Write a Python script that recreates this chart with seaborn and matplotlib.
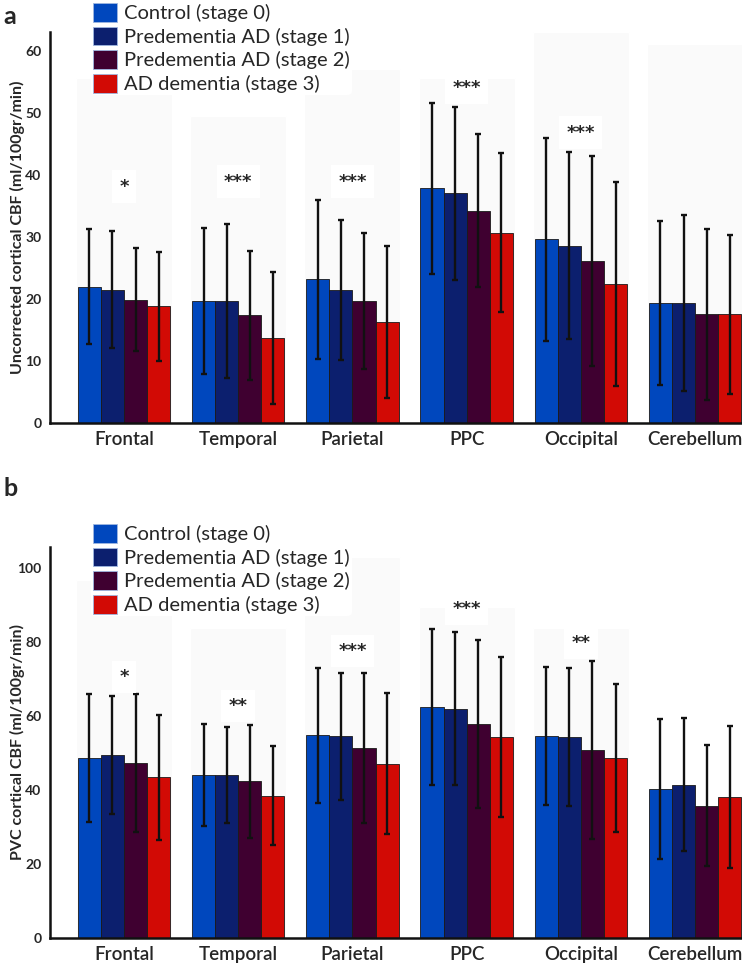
import matplotlib
matplotlib.use('Agg')
import matplotlib.pyplot as plt
from matplotlib.patches import Patch
import numpy as np
import pandas as pd
import seaborn as sns

sns.set_style("white")
plt.rcParams['font.family'] = ['Lato', 'DejaVu Sans']

# ---- data ----
regions = ['Frontal', 'Temporal', 'Parietal', 'PPC', 'Occipital', 'Cerebellum']
stages = ['Control (stage 0)', 'Predementia AD (stage 1)',
          'Predementia AD (stage 2)', 'AD dementia (stage 3)']
colors = ['#0047bd', '#0c1f6e', '#3f0030', '#d20a05']

# panel a: uncorrected cortical CBF, one row per stage
uncorr_mean = [
    [22.0, 19.7, 23.2, 37.8, 29.6, 19.4],
    [21.5, 19.7, 21.4, 37.0, 28.6, 19.4],
    [19.9, 17.4, 19.7, 34.2, 26.1, 17.5],
    [18.8, 13.7, 16.3, 30.7, 22.4, 17.5],
]
uncorr_sd = [
    [9.3, 11.8, 12.8, 13.8, 16.3, 13.2],
    [9.4, 12.4, 11.3, 14.0, 15.1, 14.2],
    [8.3, 10.4, 11.0, 12.3, 16.9, 13.8],
    [8.8, 10.7, 12.2, 12.8, 16.5, 12.8],
]
uncorr_sig = ['*', '***', '***', '***', '***', '']
uncorr_sig_y = [38.1, 38.9, 38.9, 54.0, 46.8, 0]
uncorr_shade = [55.6, 49.5, 57.0, 55.6, 63.0, 61.0]

# panel b: PVC cortical CBF
pvc_mean = [
    [48.7, 44.0, 54.8, 62.4, 54.6, 40.3],
    [49.4, 44.0, 54.5, 62.0, 54.4, 41.4],
    [47.3, 42.4, 51.3, 57.8, 50.8, 35.8],
    [43.4, 38.5, 47.1, 54.4, 48.6, 38.1],
]
pvc_sd = [
    [17.3, 13.8, 18.2, 21.1, 18.7, 18.9],
    [15.9, 13.0, 17.1, 20.7, 18.6, 18.0],
    [18.7, 15.3, 20.2, 22.8, 24.0, 16.4],
    [17.0, 13.5, 19.1, 21.6, 20.0, 19.3],
]
pvc_sig = ['*', '**', '***', '***', '**', '']
pvc_sig_y = [70.5, 62.7, 77.6, 89.0, 79.7, 0]
pvc_shade = [96.7, 83.8, 103.0, 89.5, 83.8, 0]


def to_long(means):
    rows = []
    for s, stage in enumerate(stages):
        for r, region in enumerate(regions):
            rows.append({'region': region, 'stage': stage, 'cbf': means[s][r]})
    return pd.DataFrame(rows)


def draw_panel(ax, means, sds, sig, sig_y, shade, ylim, yticks, ylabel):
    # faint background blocks behind each region
    ax.bar(range(len(regions)), shade, width=0.84, color='#fafafa', zorder=0)

    sns.barplot(data=to_long(means), x='region', y='cbf', hue='stage',
                order=regions, hue_order=stages, palette=colors,
                saturation=1, errorbar=None, width=0.81, gap=0,
                edgecolor='#1a1a1a', linewidth=0.6, legend=False,
                ax=ax, zorder=2)

    for i, cont in enumerate(ax.containers[1:]):
        xs = [p.get_x() + p.get_width() / 2 for p in cont]
        ax.errorbar(xs, means[i], yerr=sds[i], fmt='none', ecolor='#111111',
                    elinewidth=1.7, capsize=2.2, capthick=1.7, zorder=5)

    for r, mark in enumerate(sig):
        if mark:
            ax.text(r, sig_y[r], mark, ha='center', va='center',
                    fontsize=13, fontweight='bold', family='DejaVu Sans',
                    zorder=6,
                    bbox=dict(boxstyle='square,pad=0.4', fc='white', ec='none'))

    ax.set_xlim(-0.65, 5.41)
    ax.set_ylim(*ylim)
    ax.set_yticks(yticks)
    ax.set_xlabel('')
    ax.set_ylabel(ylabel, fontsize=11.5, fontweight='bold')
    ax.yaxis.set_label_coords(-0.036, 0.5)
    ax.tick_params(axis='y', direction='out', length=5, width=1.5,
                   labelsize=10, pad=1)
    ax.tick_params(axis='x', length=0, labelsize=13.5, pad=6)
    for lab in ax.get_yticklabels():
        lab.set_fontweight('bold')
    for lab in ax.get_xticklabels():
        lab.set_fontweight('semibold')
    for side in ['top', 'right']:
        ax.spines[side].set_visible(False)
    for side in ['left', 'bottom']:
        ax.spines[side].set_linewidth(1.8)
        ax.spines[side].set_color('#111111')


fig = plt.figure(figsize=(7.42, 9.63), dpi=100)
ax_a = fig.add_axes([0.067, 0.5607, 0.933, 0.406])
ax_b = fig.add_axes([0.067, 0.026, 0.933, 0.406])

draw_panel(ax_a, uncorr_mean, uncorr_sd, uncorr_sig, uncorr_sig_y, uncorr_shade,
           (0, 63), [0, 10, 20, 30, 40, 50, 60],
           'Uncorrected cortical CBF (ml/100gr/min)')
draw_panel(ax_b, pvc_mean, pvc_sd, pvc_sig, pvc_sig_y, pvc_shade,
           (0, 105.7), [0, 20, 40, 60, 80, 100],
           'PVC cortical CBF (ml/100gr/min)')

handles = [Patch(facecolor=c, edgecolor='#9fb7e0', linewidth=0.6) for c in colors]
for top in [0.999, 0.458]:
    fig.legend(handles, stages, loc='upper left', bbox_to_anchor=(0.122, top),
               frameon=True, facecolor='white', edgecolor='none', framealpha=1,
               fontsize=14.5, handlelength=1.2, handleheight=1.05,
               handletextpad=0.35, labelspacing=0.22, borderpad=0.1,
               borderaxespad=0)

fig.text(0.005, 0.995, 'a', fontsize=18, fontweight='bold', va='top')
fig.text(0.005, 0.505, 'b', fontsize=18, fontweight='bold', va='top')

fig.savefig('out.png', dpi=100)
